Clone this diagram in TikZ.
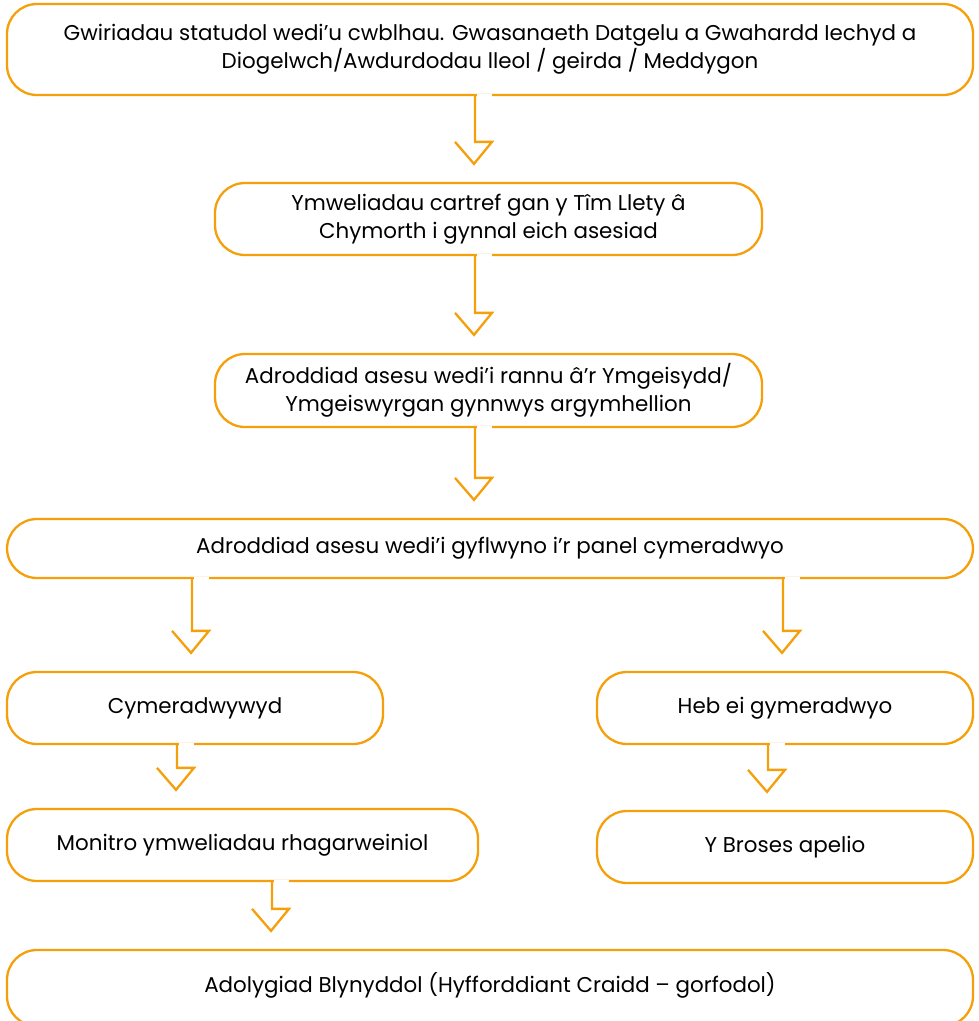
\documentclass[tikz,border=0pt]{standalone}
\usepackage{fontspec}
\setmainfont{Poppins}
\usepackage{xcolor}
\usepackage{tikz}
\usetikzlibrary{positioning,calc}
\definecolor{flowor}{RGB}{245, 159, 10}

% outlined arrow from one box to the next: source, target, x of shaft
\newcommand{\flowarrow}[3]{%
  \draw [white, line width=4pt] ($(#3,0 |- #1.south)+(1.5,0)$) -- ++(15,0);
  \draw [flowline] (#3,0 |- #1.south) -- ($(#3,0 |- #2.north)+(0,-40)$)
    -- ++(17,0) -- ++(-18,22) -- ++(-19,-22);
}

\begin{document}
\begin{tikzpicture}[x=1pt, y=-1pt,
    stepbox/.style={draw=flowor, line width=2.3pt, rounded corners=30pt, inner sep=0pt,
      align=center, font=\fontsize{21.4}{28}\selectfont},
    flowline/.style={flowor, line width=2.3pt}]
      \useasboundingbox (0, 0) rectangle (979, 1021);
      \node (checks) [stepbox, minimum width=966pt, minimum height=91pt] at (490, 49.5)
      {Gwiriadau statudol wedi’u cwblhau. Gwasanaeth Datgelu a Gwahardd Iechyd a\\
       Diogelwch/Awdurdodau lleol / geirda / Meddygon};
      \node (visits) [stepbox, minimum width=547pt, minimum height=72pt] at (488.5, 219)
      {Ymweliadau cartref gan y Tîm Llety â\\ Chymorth i gynnal eich asesiad};
      \node (report) [stepbox, minimum width=547pt, minimum height=73pt] at (488.5, 390.5)
      {Adroddiad asesu wedi’i rannu â’r Ymgeisydd/\\ Ymgeiswyrgan gynnwys argymhellion};
      \node (panel) [stepbox, minimum width=966pt, minimum height=59pt] at (490, 548.5)
      {Adroddiad asesu wedi’i gyflwyno i’r panel cymeradwyo};
      \node (approved) [stepbox, minimum width=376pt, minimum height=72pt] at (195, 708)
      {Cymeradwywyd};
      \node (refused) [stepbox, minimum width=376pt, minimum height=72pt] at (785, 708)
      {Heb ei gymeradwyo};
      \node (monitor) [stepbox, minimum width=471pt, minimum height=72pt] at (242.5, 845)
      {Monitro ymweliadau rhagarweiniol};
      \node (appeal) [stepbox, minimum width=376pt, minimum height=72pt] at (785, 847)
      {Y Broses apelio};
      \node (review) [stepbox, minimum width=966pt, minimum height=76pt, text depth=12pt] at (490, 988)
      {Adolygiad Blynyddol (Hyfforddiant Craidd – gorfodol)};
      \flowarrow{checks}{visits}{475}
      \flowarrow{visits}{report}{475}
      \flowarrow{report}{panel}{475}
      \flowarrow{panel}{approved}{192}
      \flowarrow{panel}{refused}{783}
      \flowarrow{approved}{monitor}{177}
      \flowarrow{refused}{appeal}{768}
      \flowarrow{monitor}{review}{272}
    \end{tikzpicture}
\end{document}
